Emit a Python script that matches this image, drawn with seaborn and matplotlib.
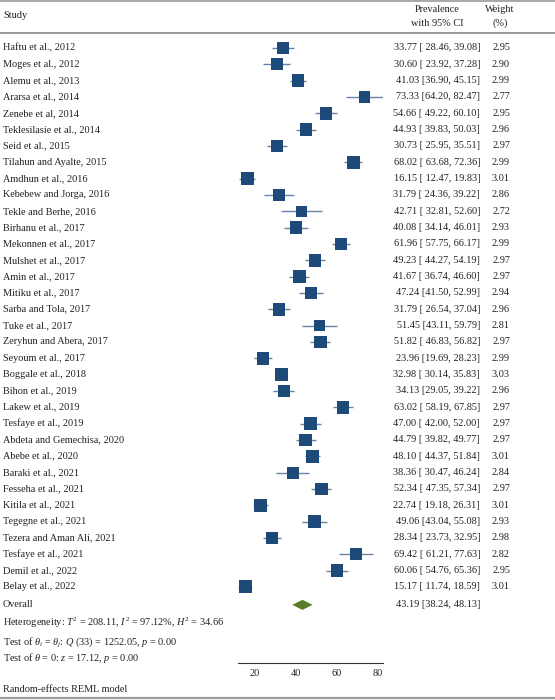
import numpy as np
import pandas as pd
import seaborn as sns
import matplotlib.pyplot as plt
import matplotlib.transforms as mtransforms

# --- data ---
studies = [
    "Haftu et al., 2012", "Moges et al., 2012", "Alemu et al., 2013", "Ararsa et al., 2014",
    "Zenebe et al, 2014", "Teklesilasie et al., 2014", "Seid et al., 2015", "Tilahun and Ayalte, 2015",
    "Amdhun et al., 2016", "Kebebew and Jorga, 2016", "Tekle and Berhe, 2016", "Birhanu et al., 2017",
    "Mekonnen et al., 2017", "Mulshet et al., 2017", "Amin et al., 2017", "Mitiku et al., 2017",
    "Sarba and Tola, 2017", "Tuke et al., 2017", "Zeryhun and Abera, 2017", "Seyoum et al., 2017",
    "Boggale et al., 2018", "Bihon et al., 2019", "Lakew et al., 2019", "Tesfaye et al., 2019",
    "Abdeta and Gemechisa, 2020", "Abebe et al., 2020", "Baraki et al., 2021", "Fesseha et al., 2021",
    "Kitila et al., 2021", "Tegegne et al., 2021", "Tezera and Aman Ali, 2021", "Tesfaye et al., 2021",
    "Demil et al., 2022", "Belay et al., 2022",
]
prev = [33.77, 30.60, 41.03, 73.33, 54.66, 44.93, 30.73, 68.02, 16.15, 31.79, 42.71, 40.08,
        61.96, 49.23, 41.67, 47.24, 31.79, 51.45, 51.82, 23.96, 32.98, 34.13, 63.02, 47.00,
        44.79, 48.10, 38.36, 52.34, 22.74, 49.06, 28.34, 69.42, 60.06, 15.17]
ci_low = [28.46, 23.92, 36.90, 64.20, 49.22, 39.83, 25.95, 63.68, 12.47, 24.36, 32.81, 34.14,
          57.75, 44.27, 36.74, 41.50, 26.54, 43.11, 46.83, 19.69, 30.14, 29.05, 58.19, 42.00,
          39.82, 44.37, 30.47, 47.35, 19.18, 43.04, 23.73, 61.21, 54.76, 11.74]
ci_high = [39.08, 37.28, 45.15, 82.47, 60.10, 50.03, 35.51, 72.36, 19.83, 39.22, 52.60, 46.01,
           66.17, 54.19, 46.60, 52.99, 37.04, 59.79, 56.82, 28.23, 35.83, 39.22, 67.85, 52.00,
           49.77, 51.84, 46.24, 57.34, 26.31, 55.08, 32.95, 77.63, 65.36, 18.59]
weights = [2.95, 2.90, 2.99, 2.77, 2.95, 2.96, 2.97, 2.99, 3.01, 2.86, 2.72, 2.93,
           2.99, 2.97, 2.97, 2.94, 2.96, 2.81, 2.97, 2.99, 3.03, 2.96, 2.97, 2.97,
           2.97, 3.01, 2.84, 2.97, 3.01, 2.93, 2.98, 2.82, 2.95, 3.01]
# rows printed without the padding space after "[" in the source table
tight_bracket = ["Alemu et al., 2013", "Ararsa et al., 2014", "Mitiku et al., 2017", "Tuke et al., 2017",
                 "Seyoum et al., 2017", "Bihon et al., 2019", "Tegegne et al., 2021"]
overall = [43.19, 38.24, 48.13]
x_ticks = [20, 40, 60, 80]

# --- styling ---
navy = "#1d4a78"
ci_col = "#6a84a8"
green = "#5a7d2c"
rule = "#9a9a9a"
FS = 7.4

sns.set_style("white")
plt.rcParams['font.family'] = ['Liberation Serif', 'DejaVu Serif']
plt.rcParams['mathtext.fontset'] = 'custom'
plt.rcParams['mathtext.rm'] = 'Liberation Serif'
plt.rcParams['mathtext.it'] = 'Liberation Serif:italic'

df = pd.DataFrame({"study": studies, "prev": prev, "lo": ci_low, "hi": ci_high, "weight": weights})
df["row"] = np.arange(len(df))
n = len(df)

W, H = 555, 700
fig = plt.figure(figsize=(W / 100, H / 100), dpi=100)

# forest axes placed in pixel space: axis line at y=663, header rule at y=33
x0_px, x1_px = 238, 383
top_px, bot_px = 33, 663
row0_px, step_px = 48, 16.33
ax = fig.add_axes([x0_px / W, 1 - bot_px / H, (x1_px - x0_px) / W, (bot_px - top_px) / H])
ax.set_xlim(min(ci_low), max(ci_high))
ax.set_ylim((bot_px - row0_px) / step_px, (top_px - row0_px) / step_px)

ax.hlines(df["row"], df["lo"], df["hi"], color=ci_col, lw=1.0, zorder=2)
sns.scatterplot(data=df, x="prev", y="row", size="weight", sizes=(62, 90), size_norm=(2.70, 3.05),
                marker="s", color=navy, edgecolor=navy, linewidth=0, legend=False, ax=ax, zorder=3)

y_over = n - 1 + 1.1
est, olo, ohi = overall
ax.fill([olo, est, ohi, est], [y_over, y_over - 0.31, y_over, y_over + 0.31],
        color=green, lw=0, zorder=3)

for s in ["top", "left", "right"]:
    ax.spines[s].set_visible(False)
ax.spines["bottom"].set_bounds(min(ci_low), max(ci_high))
ax.spines["bottom"].set_color("#333333")
ax.spines["bottom"].set_linewidth(0.8)
ax.set_xticks(x_ticks)
ax.set_xticklabels([str(t) for t in x_ticks])
ax.tick_params(axis="x", direction="out", length=2.5, width=0.8, pad=2, labelsize=FS, colors="#222222")
ax.set_yticks([])
ax.set_xlabel("")
ax.set_ylabel("")
ax.patch.set_alpha(0)

# text columns: x in figure pixels, y in rows
tr = mtransforms.blended_transform_factory(fig.transFigure, ax.transData)
txt = dict(transform=tr, fontsize=FS, va="center", color="#222222", clip_on=False)
for r in df.itertuples():
    pad = "" if r.study in tight_bracket else " "
    ax.text(3 / W, r.row, r.study, ha="left", **txt)
    ax.text(480 / W, r.row, f"{r.prev:.2f} [{pad}{r.lo:.2f}, {r.hi:.2f}]", ha="right", **txt)
    ax.text(510 / W, r.row, f"{r.weight:.2f}", ha="right", **txt)

ax.text(3 / W, y_over, "Overall", ha="left", **txt)
ax.text(480 / W, y_over, f"{est:.2f} [{olo:.2f}, {ohi:.2f}]", ha="right", **txt)
ax.text(3 / W, n - 1 + 2.2, r"Heterogeneity: $T^2$ = 208.11, $I^2$ = 97.12%, $H^2$ = 34.66", ha="left", **txt)
ax.text(3 / W, n - 1 + 3.35, r"Test of $\theta_i$ = $\theta_j$: $Q$ (33) = 1252.05, $p$ = 0.00", ha="left", **txt)
ax.text(3 / W, n - 1 + 4.35, r"Test of $\theta$ = 0: $z$ = 17.12, $p$ = 0.00", ha="left", **txt)

# header, footer and rules in figure pixels
def fy(px):
    return 1 - px / H

hdr = dict(transform=fig.transFigure, fontsize=FS, va="center", color="#222222")
fig.text(3 / W, fy(16), "Study", ha="left", **hdr)
fig.text(437 / W, fy(9), "Prevalence", ha="center", **hdr)
fig.text(437 / W, fy(23), "with 95% CI", ha="center", **hdr)
fig.text(500 / W, fy(9), "Weight", ha="center", **hdr)
fig.text(500 / W, fy(23), "(%)", ha="center", **hdr)
fig.text(3 / W, fy(690), "Random-effects REML model", ha="left", **hdr)

for ypx, lw in [(1, 1.2), (33, 1.4), (698, 1.6)]:
    fig.add_artist(plt.Line2D([0, 1], [fy(ypx), fy(ypx)], color=rule, lw=lw, transform=fig.transFigure))

fig.savefig("out.png", dpi=100)
